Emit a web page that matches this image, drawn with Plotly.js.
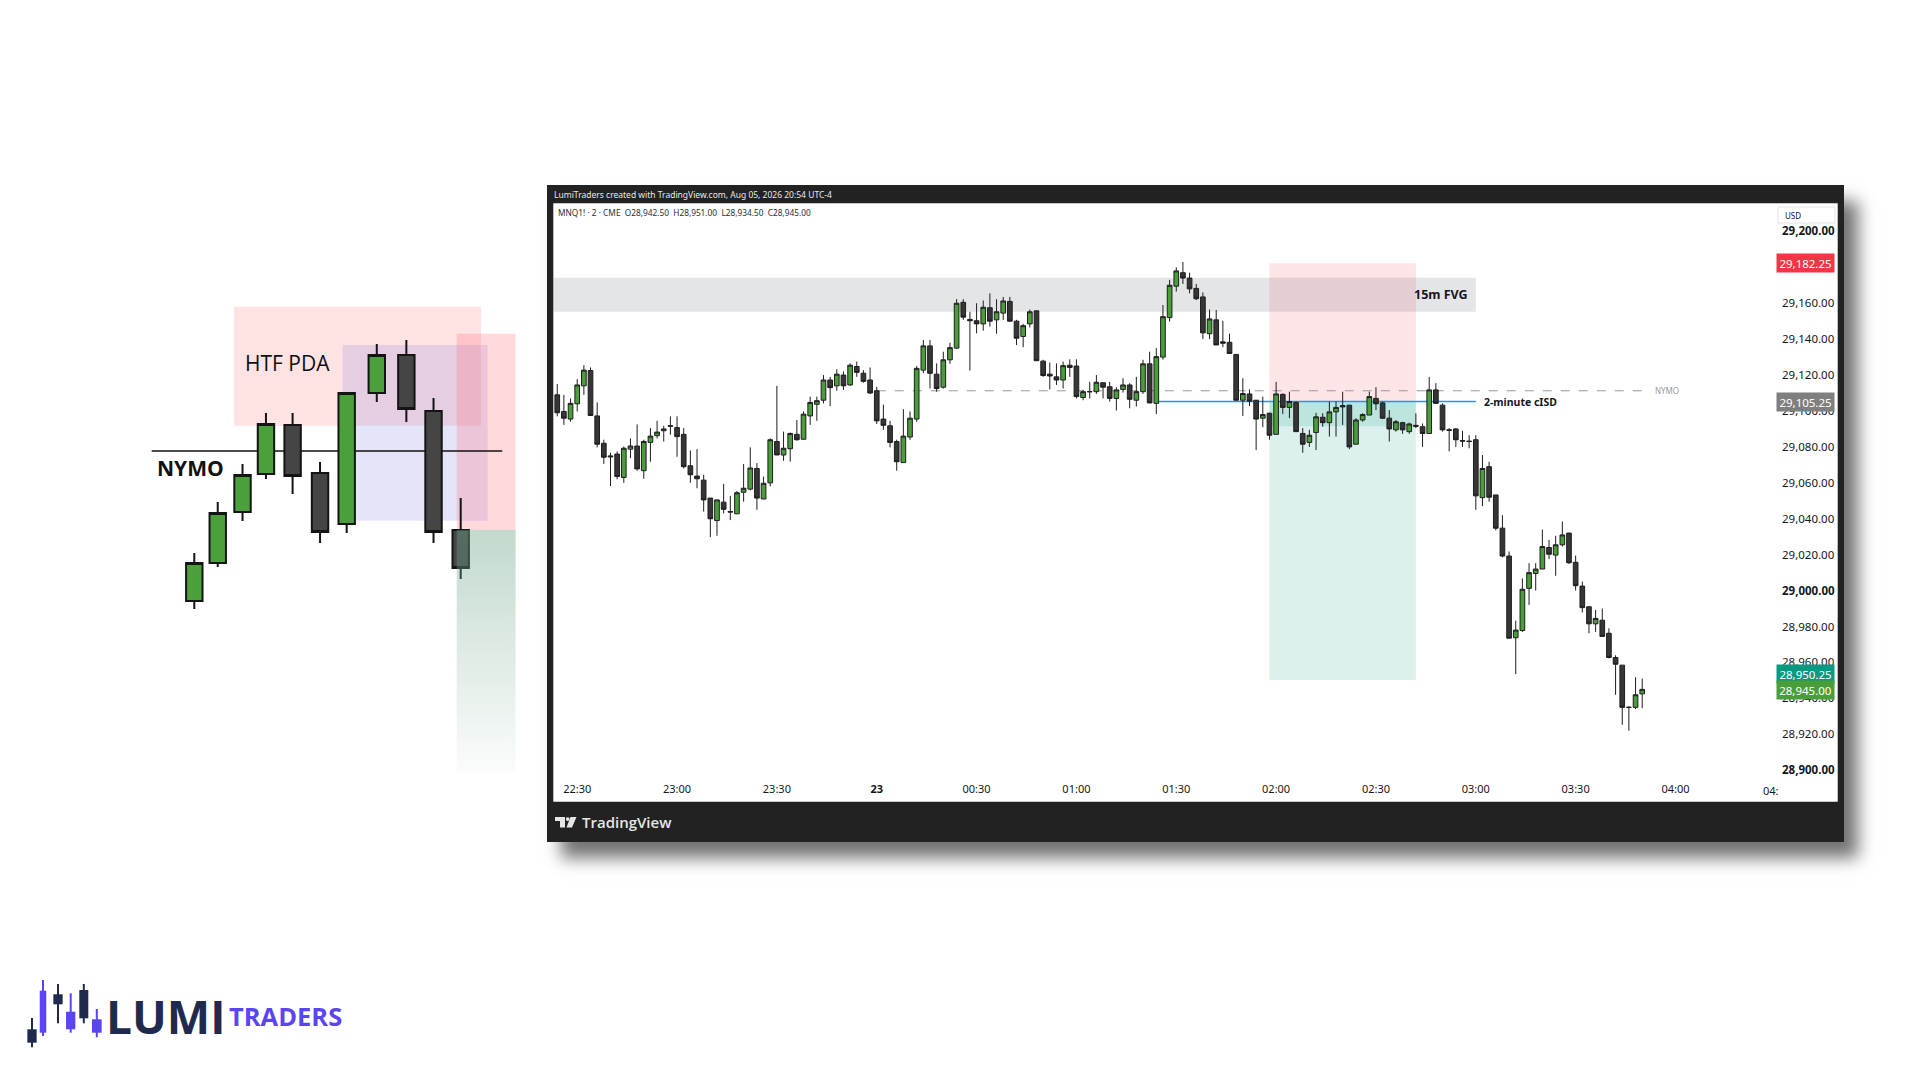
<!DOCTYPE html>
<html><head><meta charset="utf-8">
<script src="https://cdn.plot.ly/plotly-3.0.1.min.js"></script>
<style>
html,body{margin:0;padding:0;background:#fff;width:1920px;height:1080px;overflow:hidden;}
#frame{position:absolute;left:547px;top:185px;width:1297px;height:657px;background:#222222;box-shadow:14px 16px 16px rgba(0,0,0,0.55);}
#chart{position:absolute;left:0;top:0;width:1920px;height:1080px;}
</style></head><body>
<div id="frame"></div><div id="chart"></div>
<script>
// ===== MNQ1! 2-minute candles (22:24 -> 03:50) =====
const open = [
29109.0,29099.75,29095.5,29104.0,29114.0,29122.5,29097.25,29082.0,29075.0,29076.0,
29063.0,29078.75,29080.5,29066.75,29082.5,29086.25,29089.0,29091.5,29090.75,29087.0,
29069.5,29063.75,29061.5,29051.5,29039.0,29049.25,29044.0,29042.75,29054.75,29056.5,
29068.0,29051.0,29060.0,29083.0,29075.5,29079.0,29087.0,29084.25,29097.25,29103.75,
29106.0,29117.25,29114.0,29120.0,29114.5,29124.75,29121.0,29117.25,29111.25,29095.5,
29091.75,29083.0,29071.25,29085.5,29095.5,29122.75,29136.25,29120.5,29113.25,29128.5,
29135.0,29160.5,29151.0,29150.25,29148.5,29157.5,29150.75,29154.5,29161.0,29150.0,
29141.5,29148.5,29155.75,29127.75,29120.5,29119.0,29117.25,29125.5,29125.0,29107.5,
29110.75,29110.75,29115.75,29113.5,29107.0,29112.0,29114.5,29106.0,29110.75,29126.25,
29104.25,29130.0,29152.0,29169.5,29177.0,29174.0,29168.25,29163.5,29143.0,29150.75,
29138.5,29138.25,29131.5,29106.0,29109.5,29106.0,29096.0,29098.75,29087.0,29109.25,
29102.0,29104.75,29087.5,29082.5,29088.0,29096.5,29093.5,29099.5,29102.25,29103.25,
29081.5,29095.0,29097.75,29107.0,29104.5,29096.0,29089.5,29093.5,29088.5,29092.0,
29091.25,29087.5,29111.75,29103.25,29089.5,29090.0,29083.5,29083.25,29084.0,29051.75,
29069.0,29053.25,29034.75,29019.25,28973.75,28977.75,29001.25,29009.5,29012.0,29024.0,
29019.75,29025.5,29032.0,29015.75,29002.5,28991.0,28981.5,28983.5,28976.25,28962.75,
28958.5,28935.0,28935.0,28942.5];
const high = [
29115.0,29109.0,29107.0,29117.75,29125.5,29124.25,29104.75,29084.0,29076.75,29077.5,
29080.25,29084.75,29092.5,29084.0,29090.5,29094.5,29091.75,29097.0,29097.0,29090.5,
29078.0,29078.75,29064.5,29051.5,29050.5,29059.5,29052.75,29055.5,29070.5,29079.75,
29071.0,29063.5,29084.75,29114.0,29088.5,29088.0,29095.0,29099.75,29108.0,29108.0,
29120.0,29119.0,29123.25,29122.0,29126.5,29127.5,29122.75,29124.25,29113.5,29103.5,
29094.5,29084.0,29101.0,29099.75,29125.0,29139.5,29139.5,29126.5,29133.0,29138.0,
29162.25,29162.25,29155.25,29160.0,29161.5,29165.5,29162.25,29163.5,29163.5,29150.75,
29148.5,29156.5,29155.75,29128.5,29127.0,29126.5,29127.5,29128.75,29128.75,29111.75,
29116.25,29120.0,29115.75,29116.25,29113.25,29118.25,29115.5,29119.0,29128.5,29133.0,
29135.0,29159.0,29173.0,29180.0,29183.0,29177.0,29170.75,29166.0,29156.5,29156.25,
29150.25,29143.0,29131.5,29118.25,29112.0,29106.0,29108.0,29099.0,29116.25,29109.75,
29110.75,29105.25,29090.5,29089.5,29099.0,29098.75,29105.25,29105.25,29110.75,29103.25,
29096.0,29098.75,29110.75,29113.25,29105.25,29100.5,29095.0,29094.0,29093.5,29098.75,
29093.0,29119.0,29115.5,29104.25,29090.5,29090.5,29089.0,29086.5,29086.5,29075.5,
29071.75,29053.25,29042.0,29021.75,28983.25,29006.75,29015.25,29015.25,29034.0,29028.25,
29030.5,29038.5,29032.25,29019.5,29005.0,28991.0,28989.25,28990.0,28979.0,28964.0,
28958.5,28935.5,28951.75,28951.0];
const low = [
29097.0,29092.25,29094.0,29099.75,29109.0,29097.5,29079.75,29070.5,29058.25,29062.0,
29060.0,29073.75,29066.75,29062.25,29071.75,29084.75,29083.0,29086.75,29074.5,29068.0,
29060.0,29057.0,29044.0,29029.75,29030.5,29043.0,29039.25,29042.75,29049.5,29055.75,
29045.0,29051.0,29058.0,29075.5,29072.25,29071.75,29083.5,29084.25,29092.25,29094.5,
29104.25,29102.75,29111.25,29111.75,29114.0,29119.0,29115.75,29109.5,29092.75,29089.5,
29079.75,29066.75,29071.25,29084.0,29094.0,29121.0,29112.5,29110.75,29112.5,29126.25,
29134.5,29150.75,29122.5,29143.25,29144.75,29147.0,29143.0,29150.75,29149.75,29136.75,
29135.5,29146.5,29128.0,29119.0,29112.0,29114.5,29112.5,29119.0,29107.0,29106.0,
29107.0,29109.5,29107.0,29105.25,29100.25,29110.25,29101.5,29102.5,29109.5,29104.25,
29098.25,29128.5,29149.75,29166.5,29170.75,29165.5,29161.75,29140.0,29140.0,29136.75,
29135.5,29132.0,29105.75,29097.25,29102.75,29078.25,29091.0,29084.0,29087.0,29098.25,
29096.0,29088.5,29076.75,29080.0,29078.25,29091.25,29085.75,29085.75,29092.25,29078.75,
29081.5,29094.0,29097.75,29100.5,29095.5,29083.0,29088.5,29087.25,29087.25,29090.5,
29080.0,29087.5,29104.0,29088.5,29077.5,29080.0,29080.0,29079.25,29045.0,29047.0,
29049.5,29033.5,29018.5,28973.5,28953.5,28977.0,28992.0,29000.0,29012.0,29017.5,
29008.25,29024.5,29014.75,29000.0,28987.75,28976.25,28977.0,28974.5,28962.25,28942.0,
28925.25,28922.0,28934.0,28934.5];
const close = [
29099.0,29096.0,29104.25,29114.5,29122.75,29097.5,29081.5,29074.25,29074.5,29063.5,
29079.25,29080.5,29067.75,29083.0,29086.0,29088.25,29090.0,29091.75,29085.75,29069.0,
29064.5,29062.25,29050.5,29040.0,29050.5,29045.25,29043.75,29054.5,29057.0,29068.25,
29051.5,29059.75,29084.0,29075.5,29079.25,29087.5,29084.0,29098.25,29104.75,29105.75,
29117.25,29113.0,29120.5,29114.0,29125.5,29121.5,29116.5,29110.0,29094.5,29092.0,
29082.5,29071.75,29086.0,29096.0,29123.75,29136.25,29121.0,29112.5,29128.5,29135.25,
29160.0,29152.25,29150.25,29148.5,29157.75,29150.0,29155.25,29161.25,29150.0,29140.5,
29147.5,29155.25,29128.0,29119.75,29119.5,29117.25,29125.25,29124.25,29108.0,29110.75,
29110.75,29116.0,29113.25,29107.0,29111.75,29114.5,29106.5,29110.75,29126.25,29104.5,
29130.25,29152.5,29170.0,29178.0,29174.0,29168.0,29162.5,29143.5,29151.25,29136.75,
29137.75,29132.0,29106.0,29109.75,29105.5,29095.5,29098.0,29086.5,29109.5,29102.0,
29105.25,29088.5,29081.5,29086.5,29096.75,29093.5,29099.5,29102.0,29103.0,29080.0,
29095.0,29098.0,29108.0,29104.0,29096.0,29090.0,29094.0,29089.5,29092.75,29091.5,
29087.5,29111.75,29104.25,29089.5,29089.25,29084.0,29083.25,29083.0,29052.75,29068.0,
29052.0,29034.75,29019.25,28973.5,28978.0,29000.75,29010.0,29012.0,29024.5,29020.25,
29025.5,29031.0,29015.5,29002.75,28990.5,28981.5,28984.5,28974.5,28962.75,28959.0,
28935.0,28935.0,28942.0,28945.0];

// axis ticks
const yTickVals = [28900,28920,28940,28960,28980,29000,29020,29040,29060,29080,29100,29120,29140,29160,29180,29200];
const yTickText = ['<b>28,900.00</b>','28,920.00','28,940.00','28,960.00','28,980.00','<b>29,000.00</b>','29,020.00','29,040.00','29,060.00','29,080.00','29,100.00','29,120.00','29,140.00','29,160.00','29,180.00','<b>29,200.00</b>'];
const xTickVals = ['2025-07-22 22:30','2025-07-22 23:00','2025-07-22 23:30','2025-07-23 00:00','2025-07-23 00:30','2025-07-23 01:00','2025-07-23 01:30','2025-07-23 02:00','2025-07-23 02:30','2025-07-23 03:00','2025-07-23 03:30','2025-07-23 04:00'];
const xTickText = ['22:30','23:00','23:30','<b>23</b>','00:30','01:00','01:30','02:00','02:30','03:00','03:30','04:00'];

// drawings (prices)
const fvgLow = 29155.25, fvgHigh = 29174.25;
const entry = 29105.25, stop = 29182.25, target = 28950.25, boxClose = 29091.5;
const nymo = 29111.25;
const lastPrice = 28945.0;

// ===== left schematic (levels relative to NYMO line) =====
const sPos   = [1.0, 1.88, 2.81, 3.69, 4.69, 5.72, 6.72, 7.85, 8.96, 9.98, 11.0];
const sOpen  = [-150,-112,-61,-23, 26,-22,-73, 58, 96, 40,-79];
const sHigh  = [-102, -51,-13, 38, 38,-11, 59,107,111, 53,-47];
const sLow   = [-158,-116,-70,-28,-43,-92,-82, 49, 29,-92,-128];
const sClose = [-112, -62,-24, 27,-25,-81, 58, 96, 42,-81,-117];
const sTargetLevel = -322;

// ----- helpers -----
const pad = n => String(n).padStart(2,'0');
const startMin = 22*60 + 24;
const times = open.map((_, i) => {
  const t = startMin + 2*i;
  const day = 22 + Math.floor(t/1440);
  const mm = t % 1440;
  return `2025-07-${pad(day)} ${pad(Math.floor(mm/60))}:${pad(mm%60)}`;
});
const T = (d, hms) => `2025-07-${d} ${hms}`;
const PX = px => px/1920, PY = py => 1 - py/1080;
const fmt = v => v.toLocaleString('en-US',{minimumFractionDigits:2, maximumFractionDigits:2});

const UP = '#4A9E3A', DOWN = '#363636';
const sEntry = sOpen[10];

const traces = [
  {type:'candlestick', x: times, open, high, low, close, xaxis:'x', yaxis:'y',
   increasing:{line:{color:'#1e1e1e', width:1}, fillcolor:UP},
   decreasing:{line:{color:'#1e1e1e', width:1}, fillcolor:DOWN},
   hoverinfo:'skip', showlegend:false},
  {type:'candlestick', x: sPos, open:sOpen, high:sHigh, low:sLow, close:sClose, xaxis:'x2', yaxis:'y2',
   increasing:{line:{color:'#141414', width:2}, fillcolor:'#4CA03B'},
   decreasing:{line:{color:'#141414', width:2}, fillcolor:'#454545'},
   hoverinfo:'skip', showlegend:false},
  {type:'scatter', mode:'lines', xaxis:'x2', yaxis:'y2',
   x:[10.85,13.06,13.06,10.85,10.85], y:[sEntry,sEntry,sTargetLevel,sTargetLevel,sEntry],
   fill:'toself', line:{width:0, color:'rgba(0,0,0,0)'},
   fillcolor:'rgba(110,165,135,0.3)',
   fillgradient:{type:'vertical', colorscale:[[0,'rgba(110,165,135,0.03)'],[1,'rgba(110,165,135,0.42)']]},
   hoverinfo:'skip', showlegend:false}
];

const shapes = [
  // white chart area inside the TradingView frame
  {type:'rect', xref:'paper', yref:'paper', x0:PX(553.3), x1:PX(1837.7), y0:PY(801.7), y1:PY(203.3), fillcolor:'#ffffff', line:{width:0}, layer:'below'},
  // USD box
  {type:'rect', xref:'paper', yref:'paper', x0:PX(1778), x1:PX(1835), y0:PY(223), y1:PY(207), fillcolor:'#ffffff', line:{width:1, color:'#E0E3EB'}, layer:'below'},
  // 15m FVG
  {type:'rect', xref:'x', yref:'y', x0:T('22','22:20'), x1:T('23','03:00'), y0:fvgLow, y1:fvgHigh, fillcolor:'rgba(120,123,134,0.2)', line:{width:0}, layer:'below'},
  // position tool
  {type:'rect', xref:'x', yref:'y', x0:T('23','01:58'), x1:T('23','02:42'), y0:entry, y1:stop, fillcolor:'rgba(242,54,69,0.13)', line:{width:0}, layer:'below'},
  {type:'rect', xref:'x', yref:'y', x0:T('23','01:58'), x1:T('23','02:42'), y0:target, y1:entry, fillcolor:'rgba(8,153,129,0.14)', line:{width:0}, layer:'below'},
  {type:'rect', xref:'x', yref:'y', x0:T('23','01:58'), x1:T('23','02:42'), y0:boxClose, y1:entry, fillcolor:'rgba(8,153,129,0.14)', line:{width:0}, layer:'below'},
  // NYMO dashed
  {type:'line', xref:'x', yref:'y', x0:T('23','00:00'), x1:T('23','03:50'), y0:nymo, y1:nymo, line:{color:'#9598A1', width:1, dash:'dash'}, layer:'below'},
  // 2-minute cISD
  {type:'line', xref:'x', yref:'y', x0:T('23','01:24'), x1:T('23','03:00'), y0:entry, y1:entry, line:{color:'#2196F3', width:1.6}, layer:'below'},
  // schematic boxes
  {type:'rect', xref:'x2', yref:'y2', x0:2.49, x1:11.76, y0:25.3, y1:144.3, fillcolor:'rgba(255,150,150,0.28)', line:{width:0}, layer:'below'},
  {type:'rect', xref:'x2', yref:'y2', x0:6.57, x1:12.01, y0:-69.7, y1:106, fillcolor:'rgba(110,110,230,0.18)', line:{width:0}, layer:'below'},
  {type:'rect', xref:'x2', yref:'y2', x0:10.85, x1:13.06, y0:sEntry, y1:117.3, fillcolor:'rgba(255,120,130,0.28)', line:{width:0}, layer:'below'},
  {type:'line', xref:'x2', yref:'y2', x0:-0.6, x1:12.56, y0:0, y1:0, line:{color:'#111111', width:1.5}, layer:'below'},
  // TradingView logo glyph
  {type:'rect', xref:'paper', yref:'paper', x0:PX(555), x1:PX(565), y0:PY(821), y1:PY(817), fillcolor:'#E6E6E6', line:{width:0}},
  {type:'rect', xref:'paper', yref:'paper', x0:PX(560), x1:PX(565), y0:PY(827.5), y1:PY(817), fillcolor:'#E6E6E6', line:{width:0}},
  {type:'circle', xref:'paper', yref:'paper', x0:PX(565.8), x1:PX(569.6), y0:PY(821), y1:PY(817.2), fillcolor:'#E6E6E6', line:{width:0}},
  {type:'path', xref:'paper', yref:'paper', path:`M ${PX(570.5)},${PY(817)} L ${PX(576.5)},${PY(817)} L ${PX(572)},${PY(827.5)} L ${PX(566.5)},${PY(827.5)} Z`, fillcolor:'#E6E6E6', line:{width:0}}
];

// LUMI logo candles
const logoX = [32, 43, 58, 70.7, 83.8, 96.8];
const logoW = [9.3, 6.5, 9.3, 9.3, 9, 9.7];
const logoBT = [1029.3, 990.7, 994.3, 1011.7, 990, 1019.3];
const logoBB = [1042.7, 1032.7, 1004.3, 1029.3, 1018.3, 1032.7];
const logoWT = [1018, 980, 984, 993.3, 984, 1009];
const logoWB = [1047.3, 1036, 1023.3, 1032.7, 1023.3, 1037.3];
const logoC = ['#1F2A4D','#5B45F0','#1F2A4D','#5B45F0','#1F2A4D','#5B45F0'];
logoX.forEach((cx, i) => {
  shapes.push({type:'rect', xref:'paper', yref:'paper', x0:PX(cx-1), x1:PX(cx+1), y0:PY(logoWB[i]), y1:PY(logoWT[i]), fillcolor:logoC[i], line:{width:0}});
  shapes.push({type:'rect', xref:'paper', yref:'paper', x0:PX(cx-logoW[i]/2), x1:PX(cx+logoW[i]/2), y0:PY(logoBB[i]), y1:PY(logoBT[i]), fillcolor:logoC[i], line:{width:0}});
});

const tagFont = {family:'Noto Sans', size:11.5, color:'#ffffff'};
const priceTag = (v, color, yshift) => ({xref:'paper', yref:'y', x:PX(1775.5), y:v, xanchor:'left', yanchor:'middle', text:fmt(v), showarrow:false, bgcolor:color, font:tagFont, width:54, borderpad:1.5, yshift:yshift||0});

const annotations = [
  // frame texts
  {xref:'paper', yref:'paper', x:PX(552), y:PY(194.5), xanchor:'left', yanchor:'middle', showarrow:false, text:'LumiTraders created with TradingView.com, Aug 05, 2026 20:54 UTC-4', font:{family:'Noto Sans', size:8.5, color:'#E8E8E8'}},
  {xref:'paper', yref:'paper', x:PX(556), y:PY(213), xanchor:'left', yanchor:'middle', showarrow:false, text:'MNQ1! · 2 · CME  O28,942.50  H28,951.00  L28,934.50  C28,945.00', font:{family:'Noto Sans', size:8.3, color:'#2a2e39'}},
  {xref:'paper', yref:'paper', x:PX(1783), y:PY(215), xanchor:'left', yanchor:'middle', showarrow:false, text:'USD', font:{family:'Noto Sans', size:8, color:'#131722'}},
  {xref:'paper', yref:'paper', x:PX(1761), y:PY(790), xanchor:'left', yanchor:'middle', showarrow:false, text:'04:', font:{family:'Noto Sans', size:11, color:'#131722'}},
  {xref:'paper', yref:'paper', x:PX(580), y:PY(822), xanchor:'left', yanchor:'middle', showarrow:false, text:'TradingView', font:{family:'Open Sans', size:15, color:'#E6E6E6', weight:600}},
  // chart drawing labels
  {xref:'x', yref:'y', x:T('23','02:58:18'), y:(fvgLow+fvgHigh)/2, xanchor:'right', yanchor:'middle', showarrow:false, text:'<b>15m FVG</b>', font:{family:'Noto Sans', size:12.5, color:'#131722'}},
  {xref:'x', yref:'y', x:T('23','03:01:48'), y:entry, xanchor:'left', yanchor:'middle', showarrow:false, text:'<b>2-minute cISD</b>', font:{family:'Noto Sans', size:10.5, color:'#131722'}},
  {xref:'x', yref:'y', x:T('23','03:53:15'), y:nymo, xanchor:'left', yanchor:'middle', showarrow:false, text:'NYMO', font:{family:'Noto Sans', size:8, color:'#9598A1'}},
  // price scale tags
  priceTag(stop, '#F23645'),
  priceTag(entry, '#7F7F7F'),
  priceTag(target, '#089981', 6),
  priceTag(lastPrice, '#4A9E3A', -1),
  // schematic texts
  {xref:'x2', yref:'y2', x:4.48, y:88, xanchor:'center', yanchor:'middle', showarrow:false, text:'HTF PDA', font:{family:'Open Sans', size:21, color:'#111111', weight:400}},
  {xref:'x2', yref:'y2', x:0.84, y:-16.5, xanchor:'center', yanchor:'middle', showarrow:false, text:'<b>NYMO</b>', font:{family:'Open Sans', size:21, color:'#111111'}},
  {xref:'x2', yref:'y2', x:-1.13, y:-135.5, xanchor:'center', yanchor:'middle', showarrow:false, text:'4.', font:{family:'Open Sans', size:38, color:'#111111'}},
  // LUMI TRADERS logo text
  {xref:'paper', yref:'paper', x:PX(165), y:PY(1015.5), xanchor:'center', yanchor:'middle', showarrow:false, text:'<b>LUMI</b>', font:{family:'Open Sans', size:46, color:'#1F2A4D'}},
  {xref:'paper', yref:'paper', x:PX(285), y:PY(1016), xanchor:'center', yanchor:'middle', showarrow:false, text:'<b>TRADERS</b>', font:{family:'Open Sans', size:25.5, color:'#5B45F0'}}
];

const layout = {
  width:1920, height:1080, margin:{l:0, r:0, t:0, b:0},
  paper_bgcolor:'rgba(0,0,0,0)', plot_bgcolor:'rgba(0,0,0,0)',
  showlegend:false, boxgap:0.3, boxgroupgap:0,
  xaxis:{type:'date', domain:[PX(553.3), PX(1773)], range:['2025-07-22 22:22:49','2025-07-23 04:29:18'],
    rangeslider:{visible:false}, showgrid:false, zeroline:false, showline:false, ticks:'',
    tickmode:'array', tickvals:xTickVals, ticktext:xTickText, ticklabelstandoff:2,
    tickfont:{family:'Noto Sans', size:11, color:'#131722'}, anchor:'y', fixedrange:true},
  yaxis:{domain:[(1080-779)/1080, (1080-203)/1080], range:[28895.1, 29215.8], side:'right',
    showgrid:false, zeroline:false, showline:false, ticks:'', tickmode:'array', tickvals:yTickVals, ticktext:yTickText,
    ticklabelstandoff:8, tickfont:{family:'Noto Sans', size:11.5, color:'#131722'}, anchor:'x', fixedrange:true},
  xaxis2:{domain:[PX(141.02), PX(540.62)], range:[-1,14], visible:false, rangeslider:{visible:false}, anchor:'y2', fixedrange:true},
  yaxis2:{domain:[0,1], range:[-629,451], visible:false, anchor:'x2', fixedrange:true},
  shapes, annotations
};

Plotly.newPlot('chart', traces, layout, {staticPlot:true, displayModeBar:false});
</script></body></html>
